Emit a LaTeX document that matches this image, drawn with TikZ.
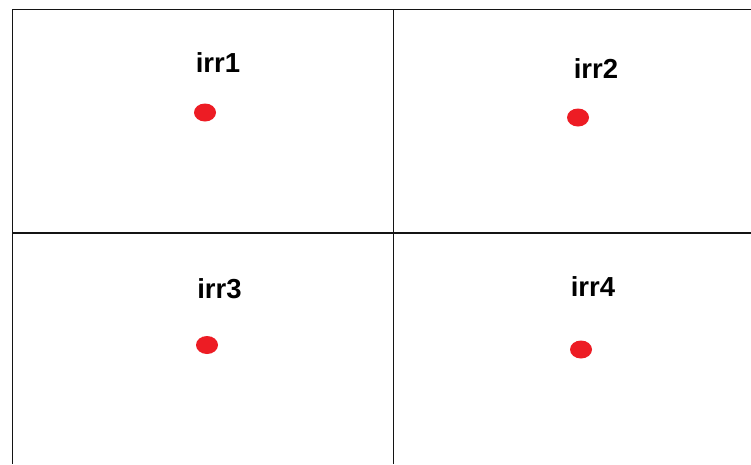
\documentclass[tikz,border=0pt]{standalone}
\usepackage{fontspec}
\setmainfont{Liberation Sans}
\definecolor{dotred}{RGB}{237,28,36}
\definecolor{linegray}{RGB}{20,20,20}
\begin{document}
\begin{tikzpicture}[x=1pt,y=-1pt,
  gridline/.style={draw=linegray,line width=1.5pt},
  lab/.style={anchor=base,inner sep=0pt,font=\fontsize{27.5}{30}\selectfont\bfseries},
  pt/.style={fill=dotred,draw=none}]
\useasboundingbox (0,0) rectangle (751,464);
\fill[white] (0,0) rectangle (751,464);
% grid
\coordinate (tl) at (12.5,9.5);
\coordinate (tr) at (751,9.5);
\coordinate (bl) at (12.5,464);
\coordinate (vt) at (393.5,9.5);
\coordinate (vb) at (393.5,464);
\coordinate (hl) at (12.5,233);
\coordinate (hr) at (751,233);
\draw[gridline] (tr) -- (tl) -- (bl);
\draw[gridline] (vt) -- (vb);
\draw[gridline] (hl) -- (hr);
% labels
\node[lab] (l1) at (218,72) {irr1};
\node[lab] (l2) at (596,78) {irr2};
\node[lab] (l3) at (219.5,298) {irr3};
\node[lab] (l4) at (593,296) {irr4};
% dots
\fill[pt] (205,112.5) ellipse [x radius=11, y radius=9];
\fill[pt] (578,117.5) ellipse [x radius=11, y radius=9];
\fill[pt] (207,345) ellipse [x radius=11, y radius=9];
\fill[pt] (581,349.5) ellipse [x radius=11, y radius=9];
\end{tikzpicture}
\end{document}
